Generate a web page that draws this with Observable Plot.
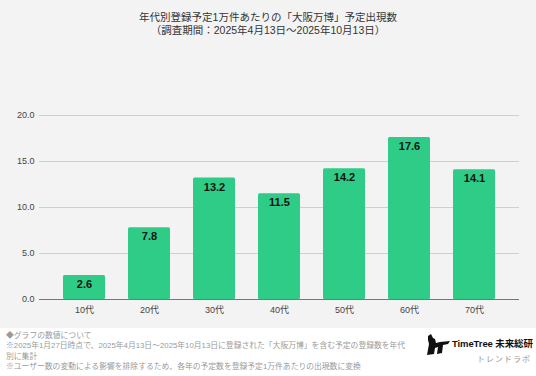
<!DOCTYPE html>
<html><head><meta charset="utf-8">
<script src="https://cdn.jsdelivr.net/npm/d3@7"></script>
<script src="https://cdn.jsdelivr.net/npm/@observablehq/plot@0.6"></script>
<style>
html,body{margin:0;padding:0;}
body{width:536px;height:376px;overflow:hidden;font-family:"Liberation Sans",Arial,"Noto Sans CJK JP",sans-serif;}
#wrap{background:#f3f3f3;width:536px;height:328px;position:relative;}
#title{position:absolute;left:0;top:11px;width:536px;text-align:center;font-size:10.5px;line-height:13px;color:#333;}
#chart{position:absolute;left:0;top:45px;}
#foot{background:#fff;width:536px;height:48px;position:relative;}
#notes{position:absolute;left:6px;top:3px;font-size:7.8px;line-height:10.3px;color:#9a9a9a;white-space:nowrap;}
#logo{position:absolute;left:426px;top:2px;width:110px;height:44px;}
#brand{position:absolute;left:26px;top:6px;font-size:9.5px;font-weight:bold;color:#111;white-space:nowrap;letter-spacing:-0.1px;}
#sub{position:absolute;left:51px;top:23px;font-size:8px;color:#999;white-space:nowrap;letter-spacing:1px;}
</style></head>
<body>
<div id="wrap">
  <div id="title">年代別登録予定1万件あたりの「大阪万博」予定出現数<br>（調査期間：2025年4月13日～2025年10月13日）</div>
  <div id="chart"></div>
</div>
<div id="foot">
  <div id="notes">◆グラフの数値について<br>※2025年1月27日時点で、2025年4月13日～2025年10月13日に登録された「大阪万博」を含む予定の登録数を年代<br>別に集計<br>※ユーザー数の変動による影響を排除するため、各年の予定数を登録予定1万件あたりの出現数に変換</div>
  <div id="logo">
    <svg width="24" height="22" viewBox="0 0 24 22" style="position:absolute;left:0;top:4px">
      <path d="M2 2 L5 0 L7 4 L9 5 L10 9 L14 8 L24 7 L22 10 L17 11 L16 19 L11 20 L12 13 L9 14 L8 20 L1 21 L3 10 L2 6 Z" fill="#111"/>
    </svg>
    <div id="brand">TimeTree 未来総研</div>
    <div id="sub">トレンドラボ</div>
  </div>
</div>
<script>
const ages = ["10代","20代","30代","40代","50代","60代","70代"];
const values = [2.6, 7.8, 13.2, 11.5, 14.2, 17.6, 14.1];
const yTicks = [0, 5, 10, 15, 20];

const data = ages.map((a, i) => ({age: a, value: values[i]}));

const chart = Plot.plot({
  width: 536,
  height: 283,
  marginLeft: 39,
  marginRight: 17,
  marginTop: 70,
  marginBottom: 29,
  style: {background: "transparent", fontFamily: "'Liberation Sans', Arial, 'Noto Sans CJK JP', sans-serif", fontSize: "9px", color: "#444"},
  x: {domain: ages, paddingInner: 0.36, paddingOuter: 0.33, label: null},
  y: {domain: [0, 20], ticks: yTicks, tickFormat: d3.format(".1f"), label: null},
  marks: [
    Plot.gridY(yTicks.filter(d => d > 0), {stroke: "#cfcfcf", strokeOpacity: 1, strokeWidth: 1}),
    Plot.axisY({ticks: yTicks, tickSize: 0, tickPadding: 5, tickFormat: d3.format(".1f"), label: null, fill: "#444"}),
    Plot.axisX({tickSize: 0, tickPadding: 7, label: null, fill: "#444"}),
    Plot.barY(data, {x: "age", y: "value", fill: "#2fcc88", rx: 1.5}),
    Plot.ruleY([0], {stroke: "#777", strokeWidth: 1}),
    Plot.text(data, {x: "age", y: "value", text: d => d3.format(".1f")(d.value), dy: 9, fill: "#111", fontWeight: "bold", fontSize: 11})
  ]
});
document.getElementById("chart").appendChild(chart);
</script>
</body></html>
